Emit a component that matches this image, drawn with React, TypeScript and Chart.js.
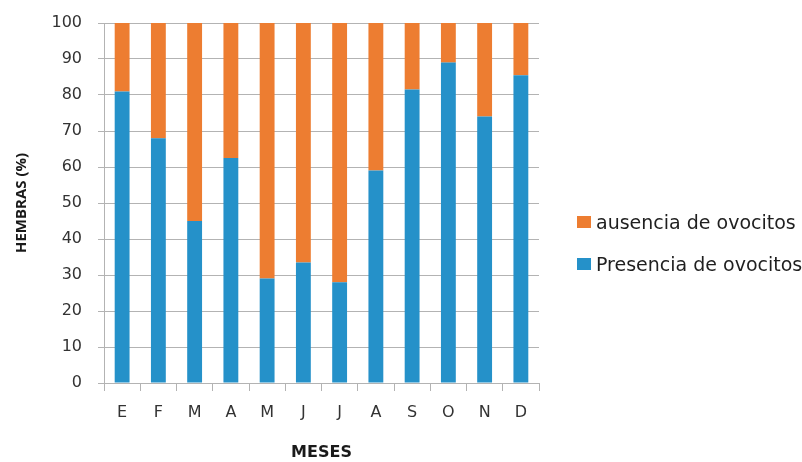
import React, { useEffect, useRef } from "react";
import { Chart, registerables } from "chart.js";

Chart.register(...registerables);

const months = ["E", "F", "M", "A", "M", "J", "J", "A", "S", "O", "N", "D"];
const presencia = [81, 68, 45, 62.5, 29, 33.5, 28, 59, 81.5, 89, 74, 85.5];
const ausencia = [19, 32, 55, 37.5, 71, 66.5, 72, 41, 18.5, 11, 26, 14.5];
const seriesNames = ["Presencia de ovocitos", "ausencia de ovocitos"];
const seriesColors = ["#2591C9", "#ED7D31"];
const yTitle = "HEMBRAS (%)";
const xTitle = "MESES";

const FONT = "'DejaVu Sans', sans-serif";
const GRID = "#b3b3b3";
const TEXT = "#333333";

export default function App() {
  const ref = useRef<HTMLCanvasElement | null>(null);

  useEffect(() => {
    document.body.style.margin = "0";
    const ctx = ref.current!;
    const chart = new Chart(ctx, {
      type: "bar",
      data: {
        labels: months,
        datasets: [
          {
            label: seriesNames[0],
            data: presencia,
            backgroundColor: seriesColors[0],
            categoryPercentage: 1,
            barPercentage: 0.41,
          },
          {
            label: seriesNames[1],
            data: ausencia,
            backgroundColor: seriesColors[1],
            categoryPercentage: 1,
            barPercentage: 0.41,
          },
        ],
      },
      options: {
        responsive: false,
        animation: false,
        devicePixelRatio: 1,
        layout: { padding: { top: 23, right: 263, bottom: 0, left: 0 } },
        plugins: {
          legend: { display: false },
          tooltip: { enabled: false },
        },
        scales: {
          x: {
            stacked: true,
            grid: {
              offset: true,
              drawOnChartArea: false,
              drawTicks: true,
              tickLength: 8,
              color: GRID,
              lineWidth: 1,
            },
            border: { display: true, color: GRID, width: 1 },
            ticks: {
              color: TEXT,
              font: { family: FONT, size: 16 },
              padding: 12,
              maxRotation: 0,
            },
            title: {
              display: true,
              text: xTitle,
              color: "#1a1a1a",
              font: { family: FONT, size: 16, weight: "bold" },
              padding: { top: 0, bottom: 0 },
            },
            afterFit: (scale: any) => {
              scale.height = 79;
              scale.paddingLeft = 0;
              scale.paddingRight = 0;
            },
          },
          y: {
            stacked: true,
            min: 0,
            max: 100,
            grid: {
              color: GRID,
              lineWidth: 1,
              drawTicks: true,
              tickLength: 6,
            },
            border: { display: true, color: GRID, width: 1 },
            ticks: {
              stepSize: 10,
              color: TEXT,
              font: { family: FONT, size: 16 },
              padding: 16,
            },
            title: {
              display: true,
              text: yTitle,
              color: "#1a1a1a",
              font: { family: "'Open Sans', sans-serif", size: 15, weight: "bold" },
              padding: { top: 13, bottom: 0 },
            },
            afterFit: (scale: any) => {
              scale.width = 104;
              scale.paddingTop = 0;
              scale.paddingBottom = 0;
            },
          },
        },
      },
    });
    return () => chart.destroy();
  }, []);

  const legendItems = [1, 0];
  const legendTops = [222, 264];

  return (
    <div style={{ position: "relative", width: 802, height: 462, overflow: "hidden" }}>
      <canvas ref={ref} width={802} height={462} style={{ display: "block" }} />
      {legendItems.map((idx, i) => (
        <div
          key={idx}
          style={{
            position: "absolute",
            left: 577,
            top: legendTops[i] - 12,
            height: 24,
            display: "flex",
            alignItems: "center",
            whiteSpace: "nowrap",
            fontFamily: FONT,
            fontSize: 19,
            color: "#1f1f1f",
          }}
        >
          <span
            style={{
              display: "inline-block",
              width: 14,
              height: 12,
              background: seriesColors[idx],
              marginRight: 5,
            }}
          />
          <span>{seriesNames[idx]}</span>
        </div>
      ))}
    </div>
  );
}
